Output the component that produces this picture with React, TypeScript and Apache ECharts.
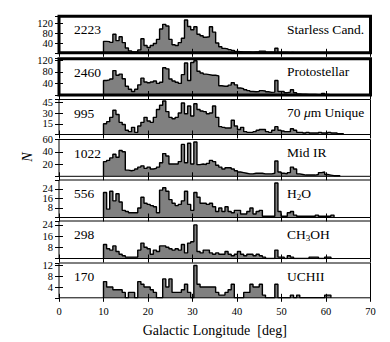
import React, { useEffect, useRef } from 'react';
import * as echarts from 'echarts';

// Histogram bins: 0.7 deg wide, starting at l = 10 deg
const BIN_START = 10;
const BIN_WIDTH = 0.7;

const starless = [47,46,43,76,50,66,42,20,8,3, 4,12,58,30,22,30,38,55,98,117, 110,55,33,30,42,60,135,108,95,107, 76,70,64,66,107,85,40,25,18,16, 13,10,6,5,4,3,3,2,3,3, 7,7,2,2,1,19,1,1,1,0, 1];
const protostellar = [50,52,55,84,68,72,56,30,20,12, 20,35,58,45,42,45,48,40,44,94, 90,55,48,44,40,70,110,50,112,118, 82,76,72,70,68,68,66,32,30,30, 34,42,35,24,22,18,15,12,11,12, 15,14,11,9,10,50,12,12,8,10, 18,8,4,3,3,2,2,2,1,2, 5,2,1,1];
const unique70 = [15,18,24,34,28,17,14,6,4,10, 3,12,17,24,19,17,24,35,41,47, 32,24,22,24,30,44,29,40,26,43, 35,33,32,29,30,40,24,11,10,9, 9,20,12,7,10,4,3,3,4,6, 7,7,4,3,6,11,6,5,4,4, 8,6,3,3,2,3,2,2,2,3, 2,2,3,2,2,1,1];
const midIR = [24,26,30,36,31,42,40,10,9,10, 12,15,17,13,15,12,13,15,22,37, 33,20,20,20,24,52,22,54,20,56, 19,20,19,21,26,24,18,15,12,14, 14,12,9,7,6,5,4,4,5,5, 5,4,4,4,5,25,7,5,4,6, 15,12,4,3,2,2,2,2,3,6, 7,3,2,1,1,1];
const h2o = [21,7,22,14,20,13,6,5,4,4, 4,8,17,12,11,10,9,4,23,25, 22,15,12,10,11,14,22,11,6,21, 17,12,12,11,12,9,5,8,5,9, 5,4,6,6,3,3,5,8,3,5, 6,1,1,1,1,29,5,1,1,4, 5,2,1,1,1,1,1,1,2,1, 1,1,1,2];
const ch3oh = [10,7,6,9,5,3,2,1,1,1, 1,6,11,8,7,3,6,5,9,9, 8,7,6,7,6,10,4,11,12,24, 5,4,6,6,4,3,4,3,3,5, 3,2,3,5,3,2,3,3,2,3, 2,1,0,0,0,6,1,1,0,2, 1,0,0,0,0,0,1,1,1,0, 0,1,1];
const uchii = [6,4,4,3,3,3,2,0,2,2, 0,6,5,4,4,3,2,0,0,7, 4,7,2,2,2,3,5,2,0,12, 5,4,4,4,4,4,2,1,1,2, 3,5,0,0,0,2,2,5,4,4, 5,1,0,0,0,5,0,0,0,0, 1,0,1,0,0,0,0,0,0,0, 0,1,1];

const seriesData = [starless, protostellar, unique70, midIR, h2o, ch3oh, uchii];
const panelNames = ['Starless Cand.', 'Protostellar', '70 {mu|μ}m Unique', 'Mid IR', 'H{sub|2}O', 'CH{sub|3}OH', 'UCHII'];
const panelCounts = ['2223', '2460', '995', '1022', '556', '298', '170'];
const yMax = [150, 125, 49, 60, 31.5, 26.8, 12.9];
const yInterval = [40, 40, 15, 20, 8, 8, 4];
const X_MIN = 0;
const X_MAX = 70;
const X_INTERVAL = 10;
const X_TITLE = 'Galactic Longitude  [deg]';
const Y_TITLE = 'N';

// layout (pixels)
const PLOT_LEFT = 59;
const PLOT_RIGHT = 370.5;
const PANEL_LAYOUT = [
  { top: 16.3, bottom: 52.8, border: 3 },
  { top: 58.7, bottom: 95, border: 3 },
  { top: 99.5, bottom: 134.5, border: 1 },
  { top: 139.5, bottom: 176.3, border: 1 },
  { top: 180, bottom: 217.5, border: 1 },
  { top: 221, bottom: 258.5, border: 1 },
  { top: 263, bottom: 297.8, border: 1 },
];

const FONT = 'Liberation Serif';

function stepPoints(counts: number[]) {
  const pts: number[][] = [[BIN_START, 0]];
  counts.forEach((c, k) => pts.push([+(BIN_START + k * BIN_WIDTH).toFixed(2), c]));
  pts.push([+(BIN_START + counts.length * BIN_WIDTH).toFixed(2), 0]);
  return pts;
}

export default function App() {
  const ref = useRef<HTMLDivElement>(null);
  useEffect(() => {
    if (!ref.current) return;
    const chart = echarts.init(ref.current, undefined, { renderer: 'svg' });
    const n = seriesData.length;
    const width = PLOT_RIGHT - PLOT_LEFT;
    const grid: any[] = [];
    const xAxis: any[] = [];
    const yAxis: any[] = [];
    const series: any[] = [];
    const graphic: any[] = [];
    const tick = { inside: true, length: 4, lineStyle: { color: '#000', width: 1 } };

    for (let i = 0; i < n; i++) {
      const L = PANEL_LAYOUT[i];
      grid.push({ left: PLOT_LEFT, top: L.top, width, height: L.bottom - L.top, show: false });
      const xBase = {
        gridIndex: i, type: 'value', min: X_MIN, max: X_MAX, interval: X_INTERVAL,
        axisLine: { show: false }, axisTick: tick, splitLine: { show: false }, z: 5,
      };
      xAxis.push({
        ...xBase, position: 'bottom',
        axisLabel: { show: i === n - 1, color: '#000', fontFamily: FONT, fontSize: 10.5, margin: 8 },
      });
      xAxis.push({ ...xBase, position: 'top', axisLabel: { show: false } });
      const yBase = {
        gridIndex: i, type: 'value', min: 0, max: yMax[i], interval: yInterval[i],
        axisLine: { show: false }, axisTick: tick, splitLine: { show: false }, z: 5,
      };
      yAxis.push({
        ...yBase, position: 'left',
        axisLabel: {
          color: '#000', fontFamily: FONT, fontSize: 10.5, margin: 6,
          showMinLabel: false, showMaxLabel: yMax[i] % yInterval[i] === 0,
        },
      });
      yAxis.push({ ...yBase, position: 'right', axisLabel: { show: false } });
      series.push({
        type: 'line', step: 'end', xAxisIndex: 2 * i, yAxisIndex: 2 * i,
        data: stepPoints(seriesData[i]), symbol: 'none', silent: true,
        lineStyle: { color: '#000', width: 1.4 },
        areaStyle: { color: '#808080', opacity: 1 },
        z: 2,
      });
      graphic.push({
        type: 'rect', z: 100, silent: true,
        shape: { x: PLOT_LEFT, y: L.top, width, height: L.bottom - L.top },
        style: { fill: 'none', stroke: '#000', lineWidth: L.border },
      });
      graphic.push({
        type: 'text', z: 100, x: 74, y: L.top + 13.5,
        style: { text: panelCounts[i], fill: '#000', font: `13.5px "${FONT}"`, align: 'left', verticalAlign: 'middle' },
      });
      graphic.push({
        type: 'text', z: 100, x: 287, y: L.top + 13,
        style: {
          text: panelNames[i], fill: '#000', font: `13.5px "${FONT}"`, align: 'left', verticalAlign: 'middle',
          rich: {
            mu: { fontStyle: 'italic', fontFamily: FONT, fontSize: 13.5, fill: '#000' },
            sub: { fontFamily: FONT, fontSize: 9, fill: '#000', verticalAlign: 'bottom', padding: [7, 0, 0, 0] },
          },
        },
      });
    }
    graphic.push({
      type: 'text', x: (PLOT_LEFT + PLOT_RIGHT) / 2, y: 330,
      style: { text: X_TITLE, fill: '#000', font: `14px "${FONT}"`, align: 'center', verticalAlign: 'middle' },
    });
    graphic.push({
      type: 'text', x: 27, y: 157, rotation: Math.PI / 2,
      style: { text: Y_TITLE, fill: '#000', font: `italic 14px "${FONT}"`, align: 'center', verticalAlign: 'middle' },
    });

    chart.setOption({
      animation: false,
      backgroundColor: '#fff',
      grid, xAxis, yAxis, series, graphic,
    });
    return () => chart.dispose();
  }, []);
  return <div ref={ref} style={{ position: 'absolute', left: 0, top: 0, width: 390, height: 342 }} />;
}
